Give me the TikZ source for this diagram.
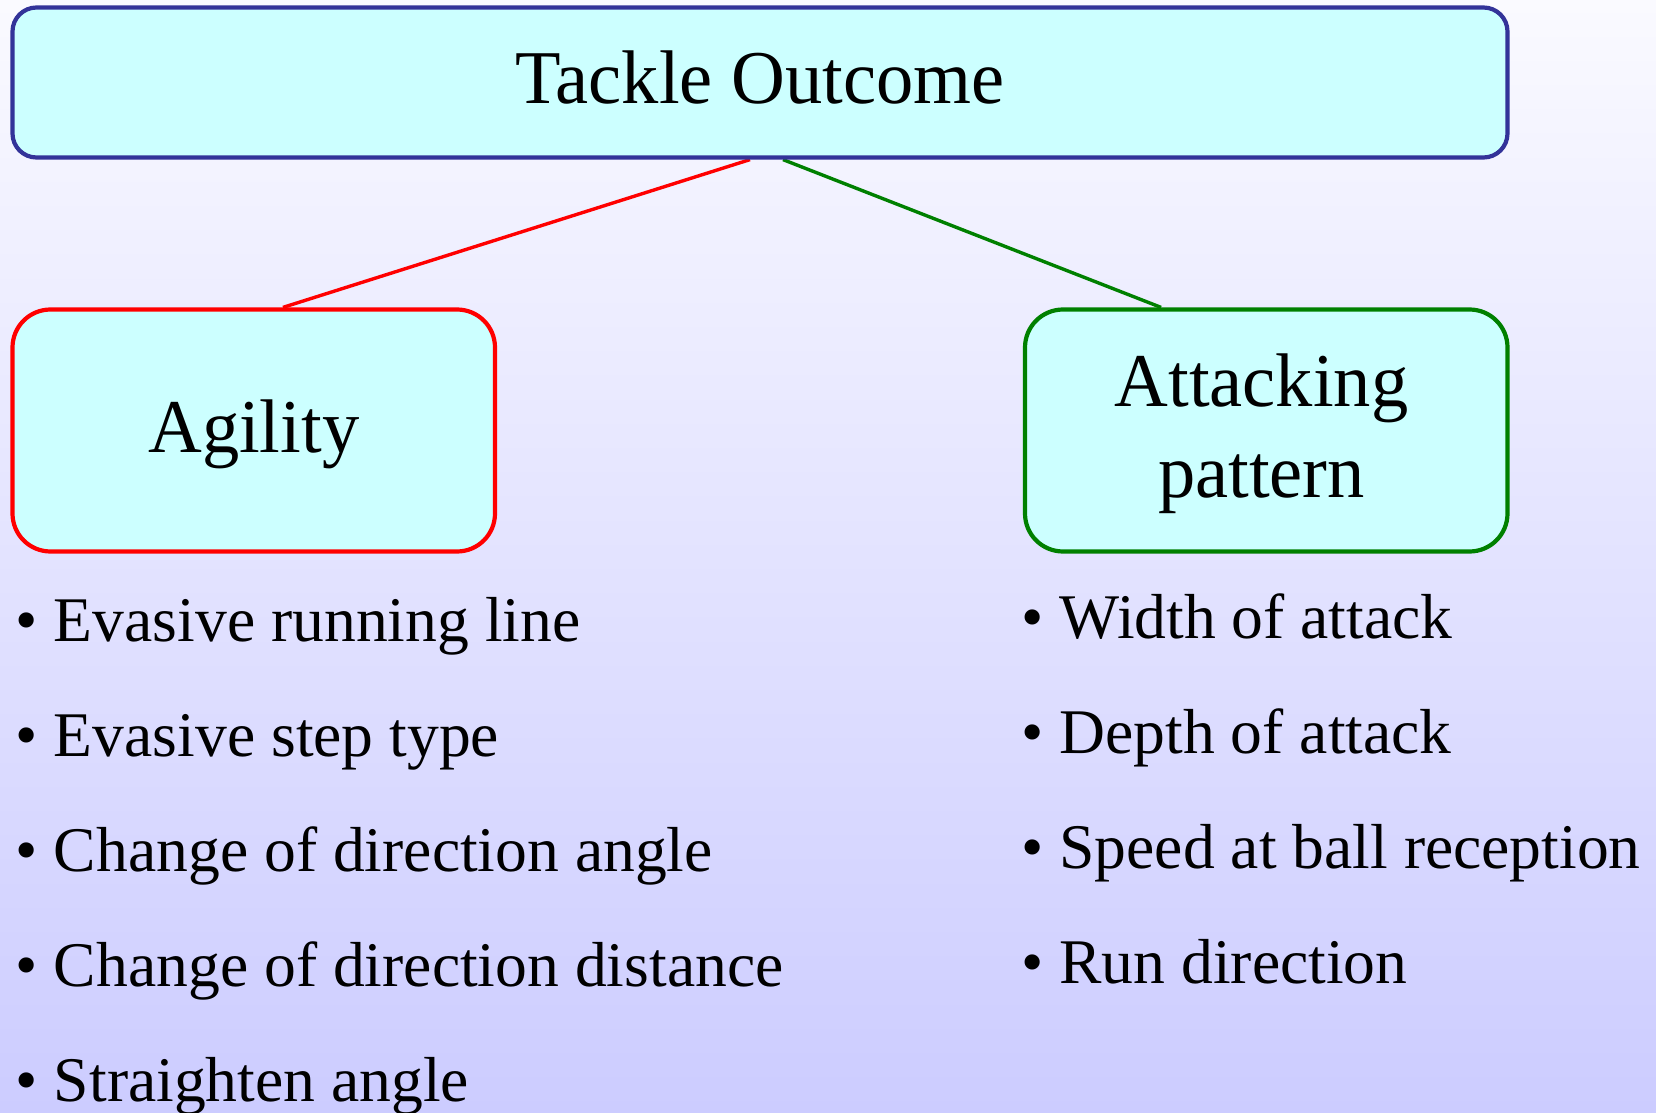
\documentclass[tikz,border=0pt]{standalone}
\usepackage{fontspec}
\setmainfont{Liberation Serif}
\newfontfamily\titlefont[FakeStretch=0.98]{Liberation Serif}
\definecolor{bgtop}{RGB}{250,250,255}
\definecolor{bgbot}{RGB}{204,204,255}
\definecolor{boxfill}{RGB}{204,255,255}
\definecolor{topborder}{RGB}{51,51,153}
\definecolor{darkgreen}{RGB}{0,128,0}
\pgfdeclarelayer{bglayer}
\pgfdeclarelayer{linklayer}
\pgfsetlayers{bglayer,linklayer,main}
\begin{document}
\begin{tikzpicture}[x=0.5pt,y=-0.5pt,
  box/.style={draw, fill=boxfill, line width=2.1pt, inner sep=0pt,
    font=\titlefont\fontsize{38}{45.5}\selectfont, text depth=0pt},
  item/.style={anchor=base west, inner sep=0pt, font=\fontsize{31.8}{38}\selectfont},
  link/.style={line width=1.7pt}]
\begin{pgfonlayer}{bglayer}
\shade[top color=bgtop, bottom color=bgbot] (0,0) rectangle (1656,1113);
\end{pgfonlayer}
\useasboundingbox (0,0) rectangle (1656,1113);

\node[box, draw=topborder, rounded corners=12pt, minimum width=747.5pt, minimum height=75pt, text height=21pt]
  (top) at (760,82.5) {Tackle Outcome};
\node[box, draw=red, rounded corners=19pt, minimum width=241.25pt, minimum height=121pt, text height=22pt]
  (agility) at (253.75,430.5) {Agility};
\node[box, draw=darkgreen, rounded corners=19pt, minimum width=241.25pt, minimum height=121pt, text height=66.5pt]
  (attack) at (1266.25,430.5) {\vbox{\halign{\hfil#\hfil\cr Attacking\cr pattern\cr}}\kern4.75pt};

\begin{pgfonlayer}{linklayer}
\draw[link, red] ([xshift=-5pt]top.south) -- ([xshift=14.6pt]agility.north);
\draw[link, darkgreen] ([xshift=11.5pt]top.south) -- ([xshift=-52.6pt]attack.north);
\end{pgfonlayer}

\node[item] (a1) at (15.5,641.7) {• Evasive running line};
\node[item] (a2) at (15.5,756.7) {• Evasive step type};
\node[item] (a3) at (15.5,871.7) {• Change of direction angle};
\node[item] (a4) at (15.5,986.7) {• Change of direction distance};
\node[item] (a5) at (15.5,1101.7) {• Straighten angle};

\node[item] (b1) at (1021,638.3) {• Width of attack};
\node[item] (b2) at (1021,753.3) {• Depth of attack};
\node[item] (b3) at (1021,868.3) {• Speed at ball reception};
\node[item] (b4) at (1021,983.3) {• Run direction};
\end{tikzpicture}
\end{document}
